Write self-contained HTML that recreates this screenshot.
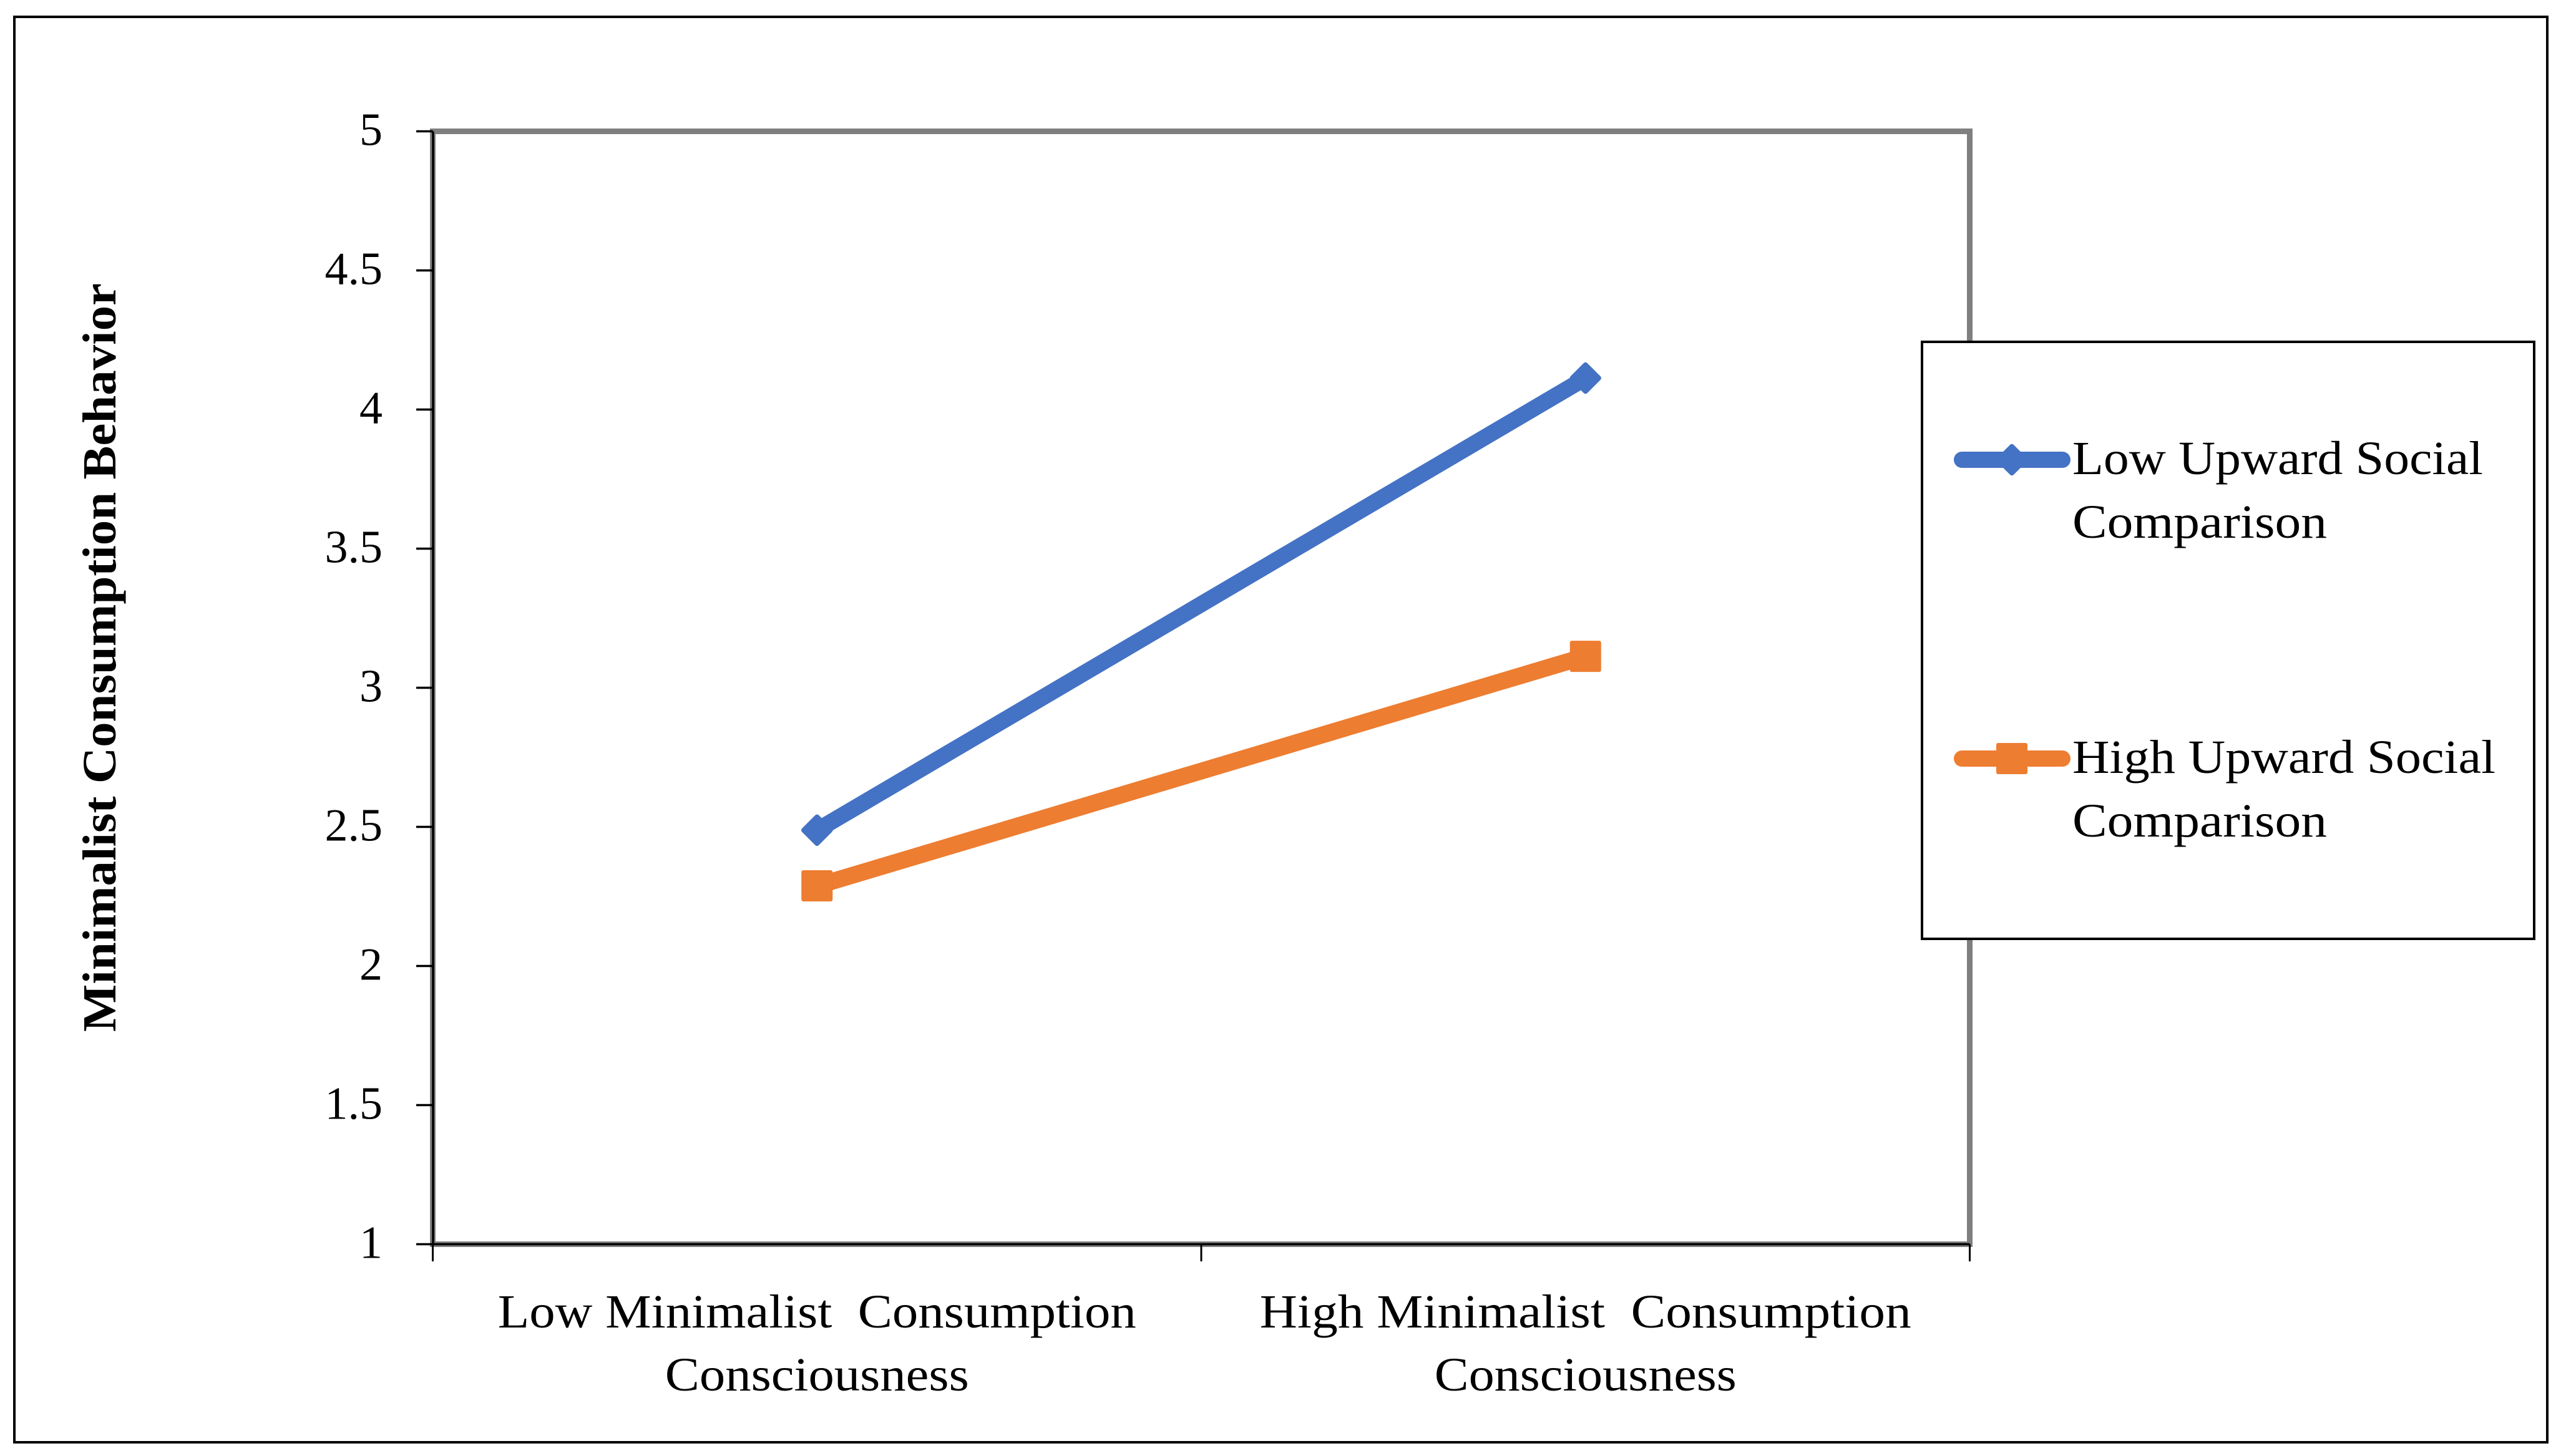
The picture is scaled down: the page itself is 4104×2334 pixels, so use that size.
<!DOCTYPE html>
<html lang="en">
<head>
<meta charset="utf-8">
<title>Minimalist Consumption Behavior interaction chart</title>
<style>
  html, body { margin: 0; padding: 0; background: #ffffff; }
  svg { display: block; }
  text { font-family: "Liberation Serif", "DejaVu Serif", serif; fill: #000000; white-space: pre; }
</style>
</head>
<body>
<svg id="chart" xmlns="http://www.w3.org/2000/svg" width="4104" height="2334" viewBox="0 0 4104 2334">
  <rect x="0" y="0" width="4104" height="2334" fill="#ffffff"/>
  <rect x="23" y="27" width="4059" height="2285" fill="none" stroke="#000000" stroke-width="4"/>
  <rect id="plot-area" fill="none" stroke="#7f7f7f" stroke-width="9"/>
  <g id="axes"></g>
  <g id="series"></g>
  <text transform="translate(185 1054) rotate(-90)" text-anchor="middle" font-size="76" font-weight="700" textLength="1200" lengthAdjust="spacingAndGlyphs">Minimalist Consumption Behavior</text>

  <g>
    <rect x="3080" y="548" width="981" height="957" fill="#ffffff" stroke="#000000" stroke-width="4"/>
    <g>
      <line x1="3144" y1="737" x2="3305" y2="737" stroke="#4472c4" stroke-width="26" stroke-linecap="round"/>
      <rect x="3205" y="718" width="38" height="38" rx="4" fill="#4472c4" transform="rotate(45 3224 737)"/>
      <text x="3321" y="760" font-size="76" textLength="658" lengthAdjust="spacingAndGlyphs">Low Upward Social</text>
      <text x="3321" y="862" font-size="76" textLength="408" lengthAdjust="spacingAndGlyphs">Comparison</text>
    </g>
    <g>
      <line x1="3144" y1="1216" x2="3305" y2="1216" stroke="#ed7d31" stroke-width="26" stroke-linecap="round"/>
      <rect x="3199" y="1191" width="50" height="50" rx="3" fill="#ed7d31"/>
      <text x="3321" y="1239" font-size="76" textLength="678" lengthAdjust="spacingAndGlyphs">High Upward Social</text>
      <text x="3321" y="1341" font-size="76" textLength="408" lengthAdjust="spacingAndGlyphs">Comparison</text>
    </g>
  </g>
</svg>
<script>
const categories = ["Low Minimalist Consumption Consciousness", "High Minimalist Consumption Consciousness"];
const categoryLine1 = ["Low Minimalist  Consumption", "High Minimalist  Consumption"];
const categoryLine2 = ["Consciousness", "Consciousness"];
const yTickValues = [1, 1.5, 2, 2.5, 3, 3.5, 4, 4.5, 5];
const yTickLabels = ["1", "1.5", "2", "2.5", "3", "3.5", "4", "4.5", "5"];
const lowUpwardValues = [2.488, 4.113];
const highUpwardValues = [2.288, 3.113];

const NS = "http://www.w3.org/2000/svg";
const plotLeft = 693.5, plotRight = 3156.5, plotTop = 210.5, plotBottom = 1994.5;
const yMin = 1, yMax = 5;

function yScale(v) {
  return plotBottom - (v - yMin) / (yMax - yMin) * (plotBottom - plotTop);
}
function bandEdge(i) {
  return plotLeft + i * (plotRight - plotLeft) / categories.length;
}
function xScale(i) {
  return bandEdge(i + 0.5);
}
function make(tag, attrs, parent) {
  const el = document.createElementNS(NS, tag);
  for (const k in attrs) el.setAttribute(k, attrs[k]);
  parent.appendChild(el);
  return el;
}

const plotArea = document.getElementById("plot-area");
plotArea.setAttribute("x", plotLeft);
plotArea.setAttribute("y", plotTop);
plotArea.setAttribute("width", plotRight - plotLeft);
plotArea.setAttribute("height", plotBottom - plotTop);

const axes = document.getElementById("axes");

const yAxisLine = make("line", { x1: plotLeft + 0.5, x2: plotLeft + 0.5, y1: plotTop, y2: plotBottom, stroke: "#000", "stroke-width": 3.5 }, axes);



const xAxisLine = make("line", { x1: plotLeft, x2: plotRight, y1: plotBottom, y2: plotBottom, stroke: "#000", "stroke-width": 3.5 }, axes);



yTickValues.forEach(function (v, i) {
  const y = yScale(v);
  const tick = make("line", { x1: 667, x2: plotLeft, y1: y, y2: y, stroke: "#000", "stroke-width": 3.5 }, axes);
  
  
  const label = make("text", { x: 613, y: y + 22, "text-anchor": "end", "font-size": 74 }, axes);
  
  
  label.textContent = yTickLabels[i];
});

for (let i = 0; i <= categories.length; i++) {
  const x = bandEdge(i);
  const tick = make("line", { x1: x, x2: x, y1: plotBottom, y2: 2022, stroke: "#000", "stroke-width": 3 }, axes);
  
  
}

const line1Widths = [1023, 1044];
const line2Widths = [487, 484];
categories.forEach(function (c, i) {
  const a = make("text", { x: xScale(i), y: 2128, "text-anchor": "middle", "font-size": 76, textLength: line1Widths[i], lengthAdjust: "spacingAndGlyphs" }, axes);
  
  
  a.textContent = categoryLine1[i];
  const b = make("text", { x: xScale(i), y: 2229, "text-anchor": "middle", "font-size": 76, textLength: line2Widths[i], lengthAdjust: "spacingAndGlyphs" }, axes);
  
  
  b.textContent = categoryLine2[i];
});

const seriesGroup = document.getElementById("series");

function drawLine(values, color, width) {
  for (let i = 0; i < values.length - 1; i++) {
    const seg = make("line", { x1: xScale(i), y1: yScale(values[i]), x2: xScale(i + 1), y2: yScale(values[i + 1]), stroke: color, "stroke-width": width }, seriesGroup);
    
    
  }
}

drawLine(lowUpwardValues, "#4472c4", 26);
drawLine(highUpwardValues, "#ed7d31", 27);

lowUpwardValues.forEach(function (v, i) {
  const cx = xScale(i), cy = yScale(v);
  const m = make("rect", { x: cx - 19, y: cy - 19, width: 38, height: 38, rx: 4, fill: "#4472c4", transform: "rotate(45 " + cx + " " + cy + ")" }, seriesGroup);
  
  
});

highUpwardValues.forEach(function (v, i) {
  const cx = xScale(i), cy = yScale(v);
  const m = make("rect", { x: cx - 25, y: cy - 25, width: 50, height: 50, rx: 3, fill: "#ed7d31" }, seriesGroup);
  
  
});
</script>
</body>
</html>
